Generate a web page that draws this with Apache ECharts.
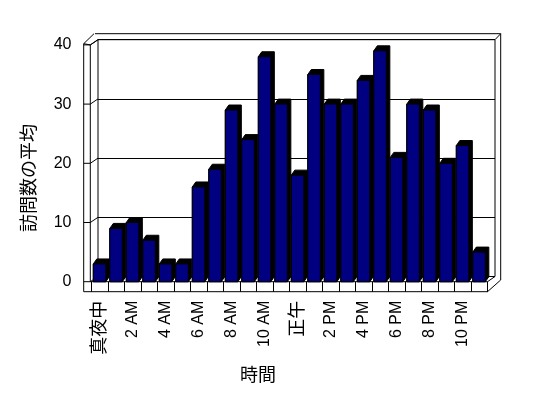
<!DOCTYPE html>
<html><head><meta charset="utf-8">
<script src="https://cdn.jsdelivr.net/npm/echarts@6/dist/echarts.min.js"></script>
<style>html,body{margin:0;padding:0;background:#fff}#c{width:548px;height:398px}</style>
</head><body><div id="c"></div>
<script>
const categories = ['真夜中','1 AM','2 AM','3 AM','4 AM','5 AM','6 AM','7 AM','8 AM','9 AM','10 AM','11 AM',
  '正午','1 PM','2 PM','3 PM','4 PM','5 PM','6 PM','7 PM','8 PM','9 PM','10 PM','11 PM'];
const visits = [3, 9, 10, 7, 3, 3, 16, 19, 29, 24, 38, 30, 18, 35, 30, 30, 34, 39, 21, 30, 29, 20, 23, 5];
const yTicks = [0, 10, 20, 30, 40];
const yTitle = '訪問数の平均';
const xTitle = '時間';

const FONT = "'Liberation Sans', Arial, 'Noto Sans CJK JP', sans-serif";
// layout (pixels)
const back = {l: 98, r: 495, t: 39.7, b: 276.5};
const front = {l: 91.5, r: 487.5, t: 44.9, b: 281.7};
const outer = {l: 83.7, t: 33.7, r: 500.7, b: 291.7};
const depth = [3.5, -5];

const chart = echarts.init(document.getElementById('c'), null, {renderer: 'canvas'});

function renderBar(params, api) {
  const i = api.value(0), v = api.value(1);
  const base = api.coord([i, 0]);
  const top = api.coord([i, v]);
  const slot = api.size([1, 0])[0];
  const w = slot * 0.76;
  const x0 = base[0] - slot / 2 + 1.8;
  const dx = depth[0], dy = depth[1];
  return {
    type: 'group',
    children: [
      {type: 'polygon', shape: {points: [[x0, top[1]], [x0 + dx, top[1] + dy], [x0 + w + dx, top[1] + dy],
        [x0 + w + dx, base[1] + dy], [x0 + w, base[1]], [x0, base[1]]]},
        style: {fill: '#000000', stroke: '#000000', lineWidth: 1}},
      {type: 'rect', shape: {x: x0, y: top[1], width: w, height: base[1] - top[1]},
        style: {fill: '#000080', stroke: '#000000', lineWidth: 1}}
    ]
  };
}

const L = (x1, y1, x2, y2) => ({type: 'line', shape: {x1, y1, x2, y2}, style: {stroke: '#000', lineWidth: 1}, silent: true});
const frame = [];
// back wall outer thickness
frame.push(L(back.l - 3, outer.t, outer.r, outer.t));
frame.push(L(outer.r, outer.t, outer.r, back.b + 3.5));
frame.push(L(back.r, back.t, outer.r, outer.t));
frame.push(L(back.r, back.t, back.r, back.b));
frame.push(L(back.l, back.t, back.r, back.t));
frame.push(L(back.l, back.t, back.l, back.b));
// left wall
frame.push(L(outer.l, front.t - 1.2, back.l - 4, outer.t));
frame.push(L(outer.l, front.t - 1.2, outer.l, outer.b));
frame.push(L(front.l - 1.2, front.t, front.l - 1.2, front.b));
frame.push(L(front.l - 1.2, front.t, back.l, back.t));
frame.push(L(outer.l, front.t - 1.2, front.l - 1.2, front.t));
// floor
frame.push(L(outer.l, outer.b, front.r, outer.b));
frame.push(L(front.r, front.b, front.r, outer.b));
frame.push(L(front.r, outer.b, outer.r, back.b + 3.5));
frame.push(L(front.r, front.b, back.r, back.b));
frame.push(L(front.l - 1.2, front.b, front.r, front.b));
// titles
frame.push({type: 'text', left: 240, top: 367, style: {text: xTitle, fontSize: 18, fontFamily: FONT, fill: '#000'}});
frame.push({type: 'text', x: 30, y: 178, rotation: Math.PI / 2,
  style: {text: yTitle, fontSize: 18, fontFamily: FONT, fill: '#000', align: 'center', verticalAlign: 'middle'}});

const option = {
  animation: false,
  backgroundColor: '#ffffff',
  grid: [
    {left: back.l, top: back.t, width: back.r - back.l, height: back.b - back.t, show: false},
    {left: front.l, top: front.t, width: front.r - front.l, height: front.b - front.t, show: false}
  ],
  xAxis: [
    {gridIndex: 0, type: 'category', data: categories, show: false},
    {gridIndex: 1, type: 'category', data: categories, boundaryGap: true,
      axisLine: {show: false},
      axisTick: {show: true, length: 10, interval: 0, lineStyle: {color: '#000', width: 1}},
      axisLabel: {interval: 1, rotate: 90, margin: 19, color: '#000', fontSize: 16, fontFamily: FONT,
        formatter: v => /[\u3000-\u9fff]/.test(v) ? '{j|' + v + '}' : v,
        rich: {j: {fontSize: 18, fontFamily: FONT, color: '#000'}}}}
  ],
  yAxis: [
    {gridIndex: 0, type: 'value', min: 0, max: 40, interval: 10,
      axisLine: {show: false}, axisTick: {show: false}, axisLabel: {show: false},
      splitLine: {show: true, lineStyle: {color: '#000', width: 1}}},
    {gridIndex: 1, type: 'value', min: yTicks[0], max: yTicks[yTicks.length - 1], interval: 10,
      axisLine: {show: false}, axisTick: {show: false}, splitLine: {show: false},
      axisLabel: {margin: 20, color: '#000', fontSize: 16, fontFamily: FONT}}
  ],
  series: [
    {type: 'custom', xAxisIndex: 1, yAxisIndex: 1, renderItem: renderBar,
      data: visits.map((v, i) => [i, v]), z: 5}
  ],
  graphic: frame
};
chart.setOption(option);

// left-wall tick marks and slashes, derived from axis scales
const extra = [];
yTicks.forEach(t => {
  const yf = chart.convertToPixel({yAxisIndex: 1}, t);
  const yb = chart.convertToPixel({yAxisIndex: 0}, t);
  extra.push(L(outer.l, yf, front.l - 1.2, yf));
  extra.push(L(front.l - 1.2, yf, back.l, yb));
});
chart.setOption({graphic: frame.concat(extra)});
</script></body></html>
